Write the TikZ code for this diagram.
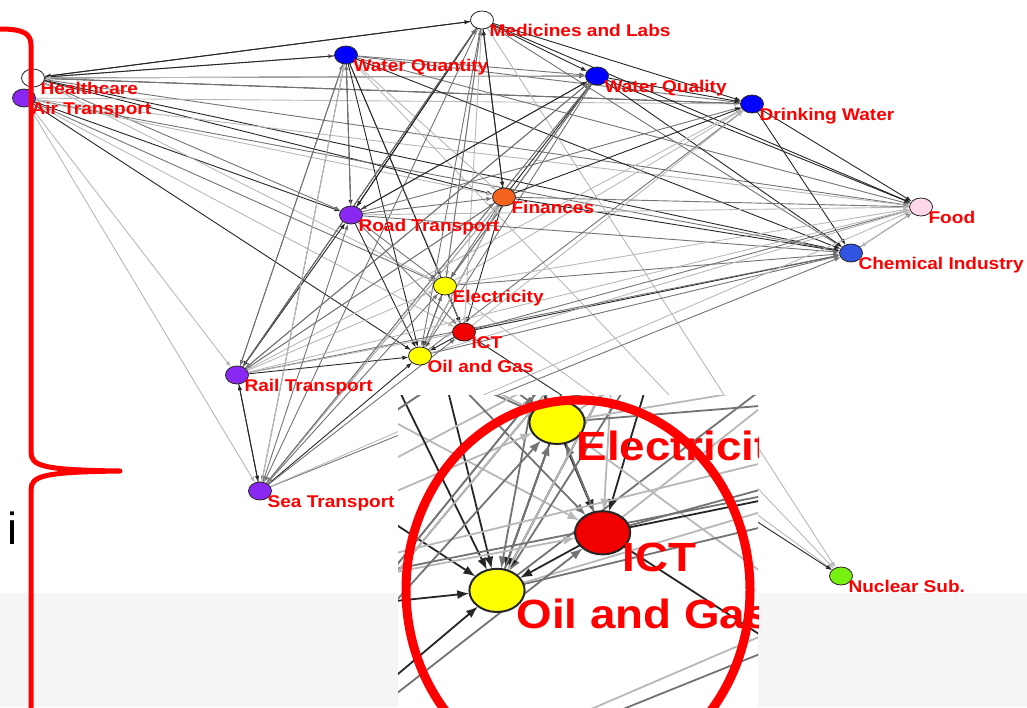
\documentclass[tikz,border=0pt]{standalone}
\usepackage{fontspec}
\setmainfont{Liberation Sans}
\newfontfamily\tagfont{Liberation Sans}[FakeStretch=1.12]
\usetikzlibrary{arrows.meta, shapes.geometric}

\definecolor{waterblue}{RGB}{0,0,255}
\definecolor{chemblue}{RGB}{50,85,225}
\definecolor{transpurple}{RGB}{136,40,240}
\definecolor{finorange}{RGB}{245,100,30}
\definecolor{energyyellow}{RGB}{255,255,0}
\definecolor{ictred}{RGB}{240,0,0}
\definecolor{foodpink}{RGB}{255,215,235}
\definecolor{nucgreen}{RGB}{120,240,20}

\tikzset{
  rim/.style={line width=0.8pt},
  vertex/.style 2 args={
    ellipse,
    draw=black!85,
    fill=#1,
    rim,
    minimum width=23pt,
    minimum height=18pt,
    inner sep=0pt,
    label={[tag]0:#2}
  },
  shapeonly/.style={
    vertex/.style 2 args={ellipse, minimum width=23pt, minimum height=18pt, inner sep=0pt}
  },
  tag/.style={
    anchor=base west,
    xshift=-4.5pt,
    yshift=-16pt,
    inner sep=0pt,
    text=red,
    font=\tagfont\bfseries\fontsize{17}{17}\selectfont
  },
  link/.style={-{Latex[length=6pt,width=4.5pt]}, line width=0.9pt},
  strong/.style={draw=black!85},
  medium/.style={draw=black!55},
  faint/.style={draw=black!28}
}

% the three nodes that the zoomed view shows
\newcommand\placecentre{%
  \node[vertex={energyyellow}{Electricity}] (elec) at (445,286) {};
  \node[vertex={ictred}{ICT}] (ict) at (464,332) {};
  \node[vertex={energyyellow}{Oil and Gas}] (oil) at (420,356) {};
}

\newcommand\placenodes{%
  \node[vertex={white}{Medicines and Labs}] (med) at (482,20) {};
  \node[vertex={waterblue}{Water Quantity}] (wqn) at (346,55) {};
  \node[vertex={white}{Healthcare}] (hc) at (33,78) {};
  \node[vertex={transpurple}{Air Transport}] (air) at (24,98) {};
  \node[vertex={waterblue}{Water Quality}] (wql) at (597,76) {};
  \node[vertex={waterblue}{Drinking Water}] (dw) at (752,104) {};
  \node[vertex={finorange}{Finances}] (fin) at (504,197) {};
  \node[vertex={transpurple}{Road Transport}] (road) at (351,215) {};
  \node[vertex={foodpink}{Food}] (food) at (921,207) {};
  \node[vertex={chemblue}{Chemical Industry}] (chem) at (851,253) {};
  \placecentre
  \node[vertex={transpurple}{Rail Transport}] (rail) at (237,375) {};
  \node[vertex={transpurple}{Sea Transport}] (sea) at (260,491) {};
  \node[vertex={nucgreen}{Nuclear Sub.}] (nuc) at (841,576) {};
}

\newcommand\drawlinks{%
  \foreach \src/\dst/\tone in {
    hc/med/strong, med/hc/strong, hc/wqn/medium, hc/wql/strong, hc/dw/strong,
    hc/food/medium, hc/chem/strong, hc/fin/strong, air/road/strong, air/elec/medium,
    air/oil/strong, air/ict/faint, air/chem/medium, air/food/faint, air/rail/faint,
    air/sea/faint, hc/road/medium, air/fin/faint, hc/elec/faint, air/dw/faint,
    wqn/hc/strong, dw/hc/medium, wql/hc/faint,
    wqn/road/strong, wqn/rail/medium, wqn/sea/medium, wqn/oil/strong, wqn/elec/medium,
    wqn/ict/strong, wqn/chem/strong, wqn/food/medium, wqn/fin/faint, wqn/dw/medium,
    wqn/wql/medium, wqn/nuc/faint,
    med/wql/strong, med/dw/strong, med/food/strong, med/chem/medium, med/road/strong,
    med/rail/strong, med/fin/strong, med/elec/faint, med/oil/medium, med/sea/medium,
    med/ict/faint, med/nuc/faint, fin/med/strong, road/med/strong,
    wql/dw/strong, wql/food/strong, wql/chem/strong, wql/road/medium, wql/rail/medium,
    wql/sea/faint, wql/oil/medium, wql/elec/medium, fin/wql/strong, elec/wql/medium,
    dw/food/strong, dw/chem/strong, road/dw/medium, fin/dw/strong, elec/dw/faint,
    rail/dw/faint, oil/dw/medium, ict/dw/faint,
    fin/food/medium, fin/chem/strong, fin/oil/strong, fin/ict/strong, fin/elec/medium,
    fin/rail/faint, fin/sea/medium, road/fin/medium,
    road/oil/strong, road/elec/medium, road/ict/medium, road/chem/medium, road/food/faint,
    road/wqn/medium, road/wql/strong,
    elec/ict/strong, elec/oil/strong, elec/chem/medium, elec/food/faint, elec/nuc/faint,
    elec/med/medium,
    ict/oil/strong, ict/chem/strong, ict/food/medium, ict/nuc/strong, ict/elec/medium,
    oil/chem/medium, oil/food/faint, oil/elec/medium, oil/fin/faint,
    rail/oil/strong, rail/sea/strong, sea/rail/strong, rail/road/strong, rail/wqn/medium,
    rail/chem/medium, rail/food/faint, rail/elec/faint, rail/ict/faint, rail/fin/medium,
    rail/wql/medium, rail/med/medium,
    sea/oil/strong, sea/ict/medium, sea/elec/medium, sea/chem/medium, sea/road/medium,
    sea/wqn/faint, sea/fin/faint, sea/food/faint, sea/wql/medium,
    chem/food/medium, food/chem/faint}
    \draw[link, \tone] (\src) -- (\dst);
}

\begin{document}
\begin{tikzpicture}[x=1pt, y=-1pt]
\useasboundingbox (0,0) rectangle (1027,707);
\fill[black!4] (0,593) rectangle (1027,707);

% shapes only, so that the links end on the borders
\begin{scope}[shapeonly]
  \placenodes
\end{scope}
\drawlinks
\placenodes

% brace on the left
\draw[red, line width=5pt, line cap=round, line join=round]
  (0,29) .. controls (24,29) and (31,34) .. (31,45) -- (31,452)
  .. controls (31,466) and (42,470) .. (120,471)
  .. controls (42,472) and (31,476) .. (31,490) -- (31,712);
\node[font=\fontsize{45}{45}\selectfont, inner sep=0pt] (imark) at (12,528) {i};

% zoomed view of the centre
\begin{scope}
  \clip (398,395) rectangle (758,707);
  \fill[white] (398,395) rectangle (758,707);
  \begin{scope}[shift={(-511,-264)}, scale=2.4, transform shape,
      rim/.style={line width=2pt},
      link/.style={-{Latex[length=12pt,width=9pt]}, line width=1.8pt}]
    \begin{scope}[shapeonly]
      \placenodes
    \end{scope}
    \drawlinks
    \placecentre
  \end{scope}
  \draw[red, line width=9pt] (578,590) ellipse [x radius=172, y radius=190];
\end{scope}
\end{tikzpicture}
\end{document}
